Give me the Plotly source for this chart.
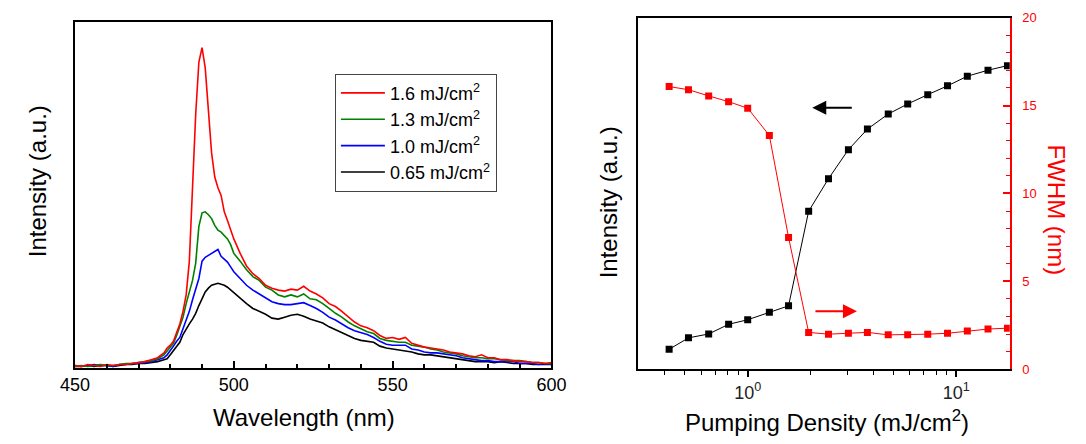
import numpy as np
import plotly.graph_objects as go

# ---------------- data: left panel (emission spectra) ----------------
wavelength = ([450, 452, 454, 456, 458, 460, 462, 464, 466, 468, 470, 472, 474, 476, 478]
              + list(range(479, 501))
              + list(range(502, 601, 2)))

int_1p6 = ([2, 1, 3, 2, 1, 3, 2, 3, 3, 4, 5, 6, 8, 10, 15]
           + [20, 23, 27, 36, 45, 58, 75, 110, 185, 262, 316, 331, 310, 262, 222, 197, 186, 178, 161, 152, 143, 133]
           + [118, 105, 97, 92, 85, 82, 80, 79, 81, 80, 84, 79, 76, 72, 66, 63, 58, 52, 47, 43,
              41, 38, 33, 30, 31, 29, 31, 25, 23, 21, 20, 19, 18, 16, 15, 14, 12, 11, 13, 10,
              10, 8, 8, 7, 6, 6, 5, 5, 4, 5])
int_1p3 = ([1, 2, 1, 2, 3, 2, 2, 3, 4, 4, 5, 6, 7, 9, 13]
           + [17, 21, 25, 33, 42, 52, 66, 78, 90, 108, 146, 160, 161, 158, 154, 147, 142, 140, 137, 133, 127, 118]
           + [110, 101, 94, 90, 83, 80, 75, 73, 75, 73, 76, 71, 70, 66, 61, 56, 52, 47, 43, 40,
              37, 35, 30, 28, 27, 26, 26, 23, 22, 21, 19, 18, 16, 15, 14, 12, 11, 10, 10, 9,
              9, 8, 7, 7, 7, 6, 5, 5, 4, 4])
int_1p0 = ([2, 1, 2, 3, 2, 2, 1, 3, 3, 4, 4, 5, 6, 8, 10]
           + [13, 17, 22, 27, 31, 40, 48, 58, 70, 80, 92, 110, 114, 116, 118, 120, 122, 115, 112, 109, 104, 99]
           + [92, 85, 80, 76, 72, 68, 66, 65, 65, 66, 67, 64, 61, 57, 52, 49, 45, 41, 38, 36,
              34, 31, 27, 24, 23, 23, 23, 19, 18, 16, 15, 15, 14, 13, 12, 10, 9, 8, 7, 7,
              6, 6, 6, 6, 4, 4, 4, 3, 4, 3])
int_0p65 = ([1, 1, 2, 1, 2, 2, 1, 2, 3, 3, 4, 4, 5, 6, 8]
            + [9, 13, 17, 21, 26, 34, 40, 45, 50, 56, 64, 71, 78, 82, 85, 86, 87, 86, 85, 83, 80, 78]
            + [72, 66, 61, 58, 55, 51, 50, 52, 54, 55, 53, 50, 48, 46, 42, 39, 36, 33, 30, 28,
               27, 26, 22, 20, 19, 18, 17, 16, 14, 13, 13, 12, 11, 10, 9, 8, 7, 6, 6, 6,
               5, 6, 5, 4, 4, 4, 3, 3, 3, 3])

series_names = ["0.65 mJ/cm<sup>2</sup>", "1.0 mJ/cm<sup>2</sup>",
                "1.3 mJ/cm<sup>2</sup>", "1.6 mJ/cm<sup>2</sup>"]
series_vals = [int_0p65, int_1p0, int_1p3, int_1p6]
series_cols = ["#000000", "#0000FF", "#008000", "#FF0000"]

# ---------------- data: right panel ----------------
density = [0.42, 0.52, 0.65, 0.81, 1.0, 1.27, 1.57, 1.96, 2.44, 3.04, 3.75, 4.72,
           5.85, 7.3, 9.08, 11.3, 14.2, 17.6]
intensity = [1.14, 1.79, 2.01, 2.56, 2.82, 3.24, 3.61, 8.99, 10.84, 12.49, 13.66, 14.52,
             15.09, 15.62, 16.12, 16.67, 17.01, 17.27]
fwhm = [16.08, 15.9, 15.55, 15.22, 14.85, 13.3, 7.5, 2.1, 2.0, 2.05, 2.1, 1.96,
        1.96, 2.0, 2.05, 2.18, 2.29, 2.34]

W, H = 1086, 444
def px(x):
    return x / W
def py(y):
    return 1 - y / H

FONT = "Arial, Liberation Sans, sans-serif"

fig = go.Figure()
for name, vals, col in zip(series_names, series_vals, series_cols):
    fig.add_trace(go.Scatter(x=wavelength, y=vals, mode="lines", name=name,
                             line=dict(color=col, width=1.6), xaxis="x", yaxis="y"))

fig.add_trace(go.Scatter(x=density, y=intensity, mode="lines+markers", showlegend=False,
                         line=dict(color="black", width=1),
                         marker=dict(symbol="square", size=7, color="black"),
                         xaxis="x2", yaxis="y2"))
fig.add_trace(go.Scatter(x=density, y=fwhm, mode="lines+markers", showlegend=False,
                         line=dict(color="red", width=1),
                         marker=dict(symbol="square", size=7, color="red"),
                         xaxis="x2", yaxis="y3"))

lo = np.log10(0.2988)
hi = np.log10(18.05)

fig.update_layout(
    width=W, height=H, margin=dict(l=0, r=0, t=0, b=0),
    paper_bgcolor="white", plot_bgcolor="white",
    font=dict(family=FONT, color="black"),
    xaxis=dict(domain=[px(61.7), px(551.7)], range=[450, 600], anchor="y",
               showline=True, linecolor="black", linewidth=2, mirror=True,
               ticks="inside", ticklen=7, tickwidth=1.5, tickcolor="black",
               tickvals=[450, 500, 550, 600], tickfont=dict(size=18, family=FONT),
               minor=dict(ticks="inside", ticklen=3.5, tickwidth=1.5, tickcolor="black",
                          dtick=10, tick0=450),
               showgrid=False, zeroline=False),
    yaxis=dict(domain=[py(373.5), py(16)], range=[-0.5, 357], anchor="x",
               showline=True, linecolor="black", linewidth=2, mirror=True,
               showticklabels=False, ticks="", showgrid=False, zeroline=False),
    xaxis2=dict(type="log", domain=[px(641), px(1023)], range=[lo, hi], anchor="y2",
                showline=True, linecolor="black", linewidth=2, mirror=True,
                ticks="outside", ticklen=6, tickwidth=1.5, tickcolor="black",
                tickvals=[1, 10], ticktext=["10<sup>0</sup>", "10<sup>1</sup>"],
                tickfont=dict(size=18, family=FONT, color="#222"),
                minor=dict(ticks="outside", ticklen=4, tickwidth=1.2, tickcolor="black",
                           tickvals=[0.4, 0.5, 0.6, 0.7, 0.8, 0.9, 2, 3, 4, 5, 6, 7, 8, 9]),
                showgrid=False, zeroline=False),
    yaxis2=dict(domain=[py(375), py(11)], range=[0, 20], anchor="x2",
                showline=True, linecolor="black", linewidth=2, mirror=False,
                showticklabels=False, ticks="", showgrid=False, zeroline=False),
    yaxis3=dict(overlaying="y2", side="right", anchor="x2", range=[0, 20],
                showline=True, linecolor="red", linewidth=2,
                ticks="inside", ticklen=7, tickwidth=1.5, tickcolor="red",
                tickvals=[0, 5, 10, 15, 20], ticklabelstandoff=8,
                tickfont=dict(size=13, family=FONT, color="red"),
                minor=dict(ticks="inside", ticklen=4, tickwidth=1.2, tickcolor="red", dtick=1),
                showgrid=False, zeroline=False),
    legend=dict(x=px(329), y=py(69), xanchor="left", yanchor="top",
                bordercolor="#444", borderwidth=1, bgcolor="white",
                traceorder="reversed", font=dict(size=18, family=FONT),
                itemwidth=44, tracegroupgap=0),
    showlegend=True,
)

def title(text, x, y, angle=0, color="black"):
    return dict(text=text, x=px(x), y=py(y), xref="paper", yref="paper",
                xanchor="center", yanchor="middle", showarrow=False, textangle=angle,
                font=dict(size=24, family=FONT, color=color))

ann = [
    title("Intensity (a.u.)", 24, 180, -90),
    title("Wavelength (nm)", 297, 425),
    title("Intensity (a.u.)", 610, 202, -90),
    title("Pumping Density (mJ/cm<sup>2</sup>)", 835, 428),
    title("FWHM (nm)", 1071, 210, 90, "red"),
]
# arrows pointing to the relevant axes
ann.append(dict(text="", x=np.log10(2.04), y=14.87, xref="x2", yref="y3",
                showarrow=True, ax=41, ay=0, arrowhead=2, arrowsize=1.4, arrowwidth=2,
                arrowcolor="black"))
ann.append(dict(text="", x=np.log10(3.34), y=3.3, xref="x2", yref="y3",
                showarrow=True, ax=-43, ay=0, arrowhead=2, arrowsize=1.4, arrowwidth=2,
                arrowcolor="red"))
fig.update_layout(annotations=ann)

fig.write_html("out.html", config={"displayModeBar": False, "responsive": False},
               post_script="document.body.style.margin='0px';")
